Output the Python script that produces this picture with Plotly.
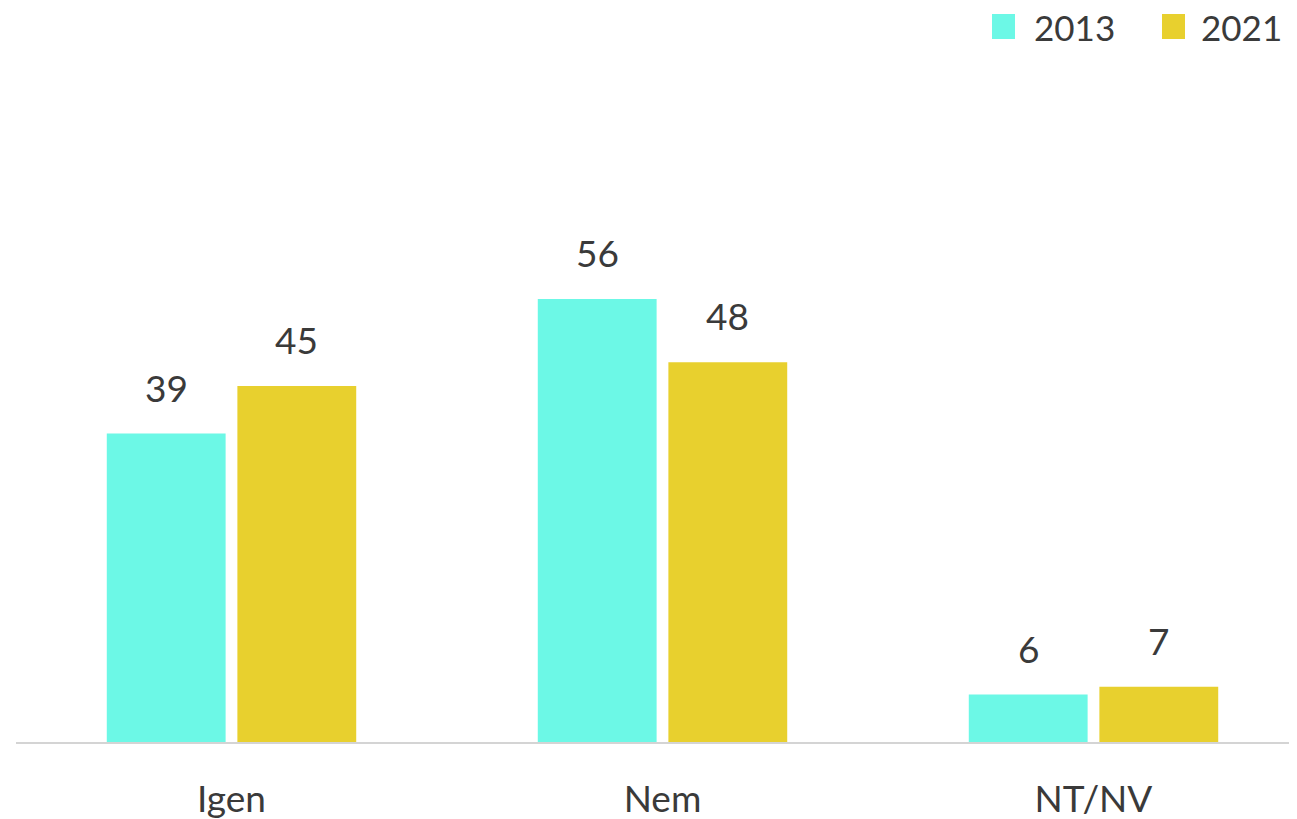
import plotly.graph_objects as go

categories = ["Igen", "Nem", "NT/NV"]
series_names = ["2013", "2021"]
values_2013 = [39, 56, 6]
values_2021 = [45, 48, 7]
colors = ["#6CF8E6", "#E8D02E"]

FONT = "Lato"
TXT = "#3a3a3a"

# figure geometry (page has an 8px body margin)
W, H = 1289, 811
ML, MR, MT, MB = 8, 0, 72, 77
PW, PH = W - ML - MR, H - MT - MB

fig = go.Figure()
for name, vals, col in zip(series_names, [values_2013, values_2021], colors):
    fig.add_trace(go.Bar(x=categories, y=vals, name=name, marker_color=col,
                         marker_line_width=0, showlegend=False))

# value labels
for vals, shift in zip([values_2013, values_2021], [-65, 65]):
    for c, v in zip(categories, vals):
        fig.add_annotation(x=c, y=v, text=str(v), showarrow=False, xshift=shift,
                           yanchor="bottom", yshift=22,
                           font=dict(family=FONT, size=37, color=TXT))

# manual legend (squares + labels), positioned in pixels
def px(x):
    return (x - ML) / PW

def py(y):
    return (MT + PH - y) / PH

legend_items = [(984, 1024), (1154, 1191)]  # square left, text left (pixels)
for (sq_x, tx_x), name, col in zip(legend_items, series_names, colors):
    fig.add_shape(type="rect", xref="paper", yref="paper",
                  x0=px(sq_x), x1=px(sq_x + 23), y0=py(31), y1=py(6),
                  fillcolor=col, line_width=0)
    fig.add_annotation(xref="paper", yref="paper", x=px(tx_x), y=py(19),
                       xanchor="left", yanchor="middle", text=name, showarrow=False,
                       font=dict(family=FONT, size=35, color=TXT))

fig.update_layout(
    width=W, height=H,
    paper_bgcolor="white", plot_bgcolor="white",
    margin=dict(l=ML, r=MR, t=MT, b=MB, autoexpand=False),
    barmode="group", bargap=0.394, bargroupgap=0.09,
    font=dict(family=FONT, size=37, color=TXT),
    showlegend=False,
    xaxis=dict(range=[-0.5, -0.5 + PW / 431], showline=True, linecolor="#d4d4d4",
               linewidth=2, ticks="", showgrid=False,
               tickfont=dict(family=FONT, size=37, color=TXT),
               ticklabelstandoff=24),
    yaxis=dict(range=[0, PH / 7.91], visible=False, showgrid=False, zeroline=False),
)
fig.write_html("out.html")
